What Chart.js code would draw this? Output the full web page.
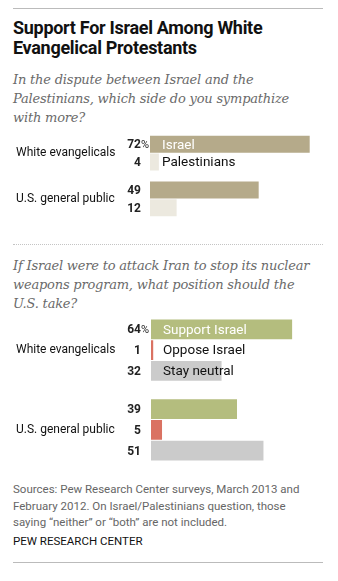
<!DOCTYPE html>
<html>
<head>
<meta charset="utf-8">
<script src="https://cdn.jsdelivr.net/npm/chart.js@4.4.1/dist/chart.umd.min.js"></script>
<style>
  body { margin: 0; background: #fff; width: 338px; height: 581px; position: relative; overflow: hidden; }
  .rule { position: absolute; left: 13px; width: 310px; border-top: 1px solid #bbb; }
  .dots { position: absolute; left: 13px; width: 310px; border-top: 1px dotted #c4c4c4; }
  .title { position: absolute; left: 13px; top: 18px; font: bold 18px/20px Roboto, sans-serif; color: #111; letter-spacing: -0.3px; }
  .sub { position: absolute; left: 13px; font: italic 13px/19px "DejaVu Serif", serif; color: #6a6a6a; letter-spacing: -0.2px; }
  .note { position: absolute; left: 13px; top: 481px; font: 11.5px/16.5px Roboto, sans-serif; color: #666; }
  .credit { position: absolute; left: 13px; top: 534px; font: 11.5px Roboto, sans-serif; color: #111; }
  canvas { position: absolute; left: 0; }
</style>
</head>
<body>
<div class="rule" style="top:8px"></div>
<div class="title">Support For Israel Among White<br>Evangelical Protestants</div>
<div class="sub" style="top:70px">In the dispute between Israel and the<br>Palestinians, which side do you sympathize<br>with more?</div>
<canvas id="sympathyChart" width="338" height="112" style="top:120px"></canvas>
<div class="dots" style="top:244px"></div>
<div class="sub" style="top:256px">If Israel were to attack Iran to stop its nuclear<br>weapons program, what position should the<br>U.S. take?</div>
<canvas id="iranChart" width="338" height="180" style="top:300px"></canvas>
<div class="note">Sources: Pew Research Center surveys, March 2013 and<br>February 2012. On Israel/Palestinians question, those<br>saying “neither” or “both” are not included.</div>
<div class="credit">PEW RESEARCH CENTER</div>
<div class="rule" style="top:562px"></div>

<script>
//---groups
var groups = [ 'White evangelicals', 'U.S. general public' ]

//---sympathy question
var sympathySides = [ 'Israel', 'Palestinians' ]
var israelData = [ 72, 49 ]
var palestiniansData = [ 4, 12 ]

//---iran question
var positions = [ 'Support Israel', 'Oppose Israel', 'Stay neutral' ]
var supportData = [ 64, 39 ]
var opposeData = [ 1, 5 ]
var neutralData = [ 32, 51 ]

var xMax = 78

// draws the numbers left of the bars and the series names in the first group
var barLabels = {
  id: 'barLabels',
  afterDatasetsDraw: function (chart) {
    var c = chart.ctx;
    c.save();
    c.textBaseline = 'middle';
    chart.data.datasets.forEach(function (ds, i) {
      chart.getDatasetMeta(i).data.forEach(function (bar, j) {
        var nx = 141;
        c.font = 'bold 12px Roboto, sans-serif';
        c.fillStyle = '#222';
        c.textAlign = 'right';
        c.fillText(ds.data[j], nx, bar.y + 1);
        if (i == 0 && j == 0) {
          c.font = '11px Roboto, sans-serif';
          c.textAlign = 'left';
          c.fillText('%', nx, bar.y + 1);
        }
        if (j == 0) {
          c.font = '13.5px Roboto, sans-serif';
          c.textAlign = 'left';
          c.fillStyle = i == 0 ? '#fff' : '#111';
          c.fillText(ds.label, bar.base + 12, bar.y + 1);
        }
      });
    });
    c.restore();
  }
};

function makeOptions(catPct, barPct, axisWidth, padTop, padBottom) {
  return {
    indexAxis: 'y',
    responsive: false,
    animation: false,
    devicePixelRatio: 1,
    layout: { padding: { left: 16, right: 15, top: padTop, bottom: padBottom } },
    plugins: { legend: { display: false }, tooltip: { enabled: false } },
    datasets: { bar: { categoryPercentage: catPct, barPercentage: barPct } },
    scales: {
      x: { display: false, min: 0, max: xMax },
      y: {
        grid: { display: false },
        border: { display: false },
        afterFit: function (scale) { scale.width = axisWidth; },
        ticks: {
          crossAlign: 'far',
          color: '#111',
          font: { family: 'Roboto, sans-serif', size: 12 }
        }
      }
    }
  };
}

var sympathyChart = new Chart(document.getElementById('sympathyChart'), {
  type: 'bar',
  data: {
    labels: groups,
    datasets: [
      { label: sympathySides[0], data: israelData, backgroundColor: '#b5aa8a' },
      { label: sympathySides[1], data: palestiniansData, backgroundColor: '#ece9df' }
    ]
  },
  options: makeOptions(0.78, 0.95, 134, 4, 2),
  plugins: [barLabels]
});

var iranChart = new Chart(document.getElementById('iranChart'), {
  type: 'bar',
  data: {
    labels: groups,
    datasets: [
      { label: positions[0], data: supportData, backgroundColor: '#b4bd7e' },
      { label: positions[1], data: opposeData, backgroundColor: '#da7262' },
      { label: positions[2], data: neutralData, backgroundColor: '#cbcbcb' }
    ]
  },
  options: makeOptions(0.78, 0.95, 135, 5, 6),
  plugins: [barLabels]
});
</script>
</body>
</html>
